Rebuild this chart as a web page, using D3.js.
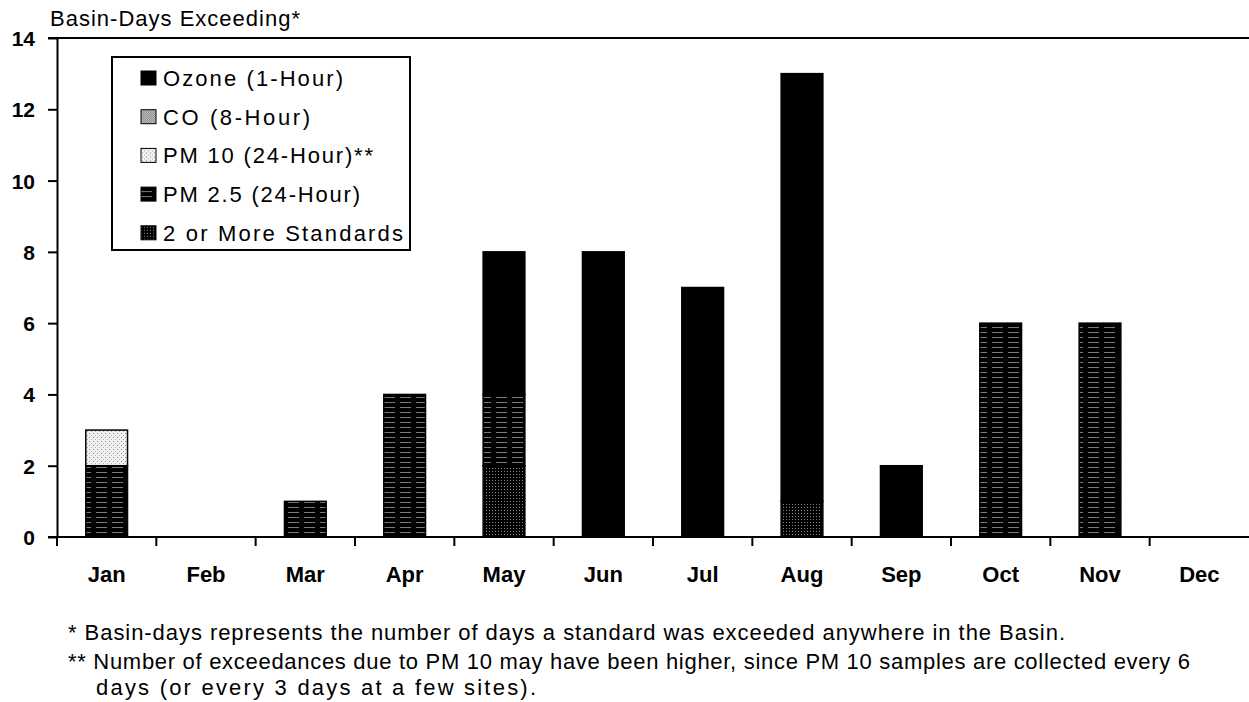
<!DOCTYPE html>
<html lang="en">
<head>
<meta charset="utf-8">
<title>Basin-Days Exceeding Standards by Month</title>
<style>
  body { margin: 0; background: #fff; }
  svg { display: block; }
  text { font-family: "Liberation Sans", Arial, sans-serif; fill: #000; }
  .tick text { font-size: 21px; font-weight: bold; }
  .legend text { font-size: 22px; }
  .note { font-size: 22px; }
</style>
</head>
<body>
<script src="https://cdn.jsdelivr.net/npm/d3@7"></script>
<script>
// data
var months = ["Jan", "Feb", "Mar", "Apr", "May", "Jun", "Jul", "Aug", "Sep", "Oct", "Nov", "Dec"];
var multi = [0, 0, 0, 0, 2, 0, 0, 1, 0, 0, 0, 0];   // 2 or More Standards
var co    = [0, 0, 0, 0, 0, 0, 0, 0, 0, 0, 0, 0];   // CO (8-Hour)
var pm25  = [2, 0, 1, 4, 2, 0, 0, 0, 0, 6, 6, 0];   // PM 2.5 (24-Hour)
var pm10  = [1, 0, 0, 0, 0, 0, 0, 0, 0, 0, 0, 0];   // PM 10 (24-Hour)
var ozone = [0, 0, 0, 0, 4, 8, 7, 12, 2, 0, 0, 0];  // Ozone (1-Hour)
var yTicks = [0, 2, 4, 6, 8, 10, 12, 14];
var legendLabels = ["Ozone (1-Hour)", "CO (8-Hour)", "PM 10 (24-Hour)**", "PM 2.5 (24-Hour)", "2 or More Standards"];

var w = 1249, h = 702;
// plot edges (note: "top" is a reserved window global, so use other names)
var plotL = 57, plotR = 1249, plotT = 38, plotB = 537;

var rows = months.map(function(m, i) {
  return { month: m, multi: multi[i], co: co[i], pm25: pm25[i], pm10: pm10[i], ozone: ozone[i] };
});
var keys = ["multi", "co", "pm25", "pm10", "ozone"];
var series = d3.stack().keys(keys)(rows);

var svg = d3.select("body").append("svg").attr("width", w).attr("height", h);

// fill patterns, looking like the scanned textures
var defs = svg.append("defs");
var p25 = defs.append("pattern").attr("id", "p-pm25").attr("patternUnits", "userSpaceOnUse")
  .attr("width", 16).attr("height", 5);
p25.append("rect").attr("width", 16).attr("height", 5).attr("fill", "#000");
p25.append("line").attr("x1", 0).attr("x2", 11).attr("y1", 2.5).attr("y2", 2.5)
  .attr("stroke", "#999").attr("stroke-width", 0.8);

var pm = defs.append("pattern").attr("id", "p-multi").attr("patternUnits", "userSpaceOnUse")
  .attr("width", 3).attr("height", 3);
pm.append("rect").attr("width", 3).attr("height", 3).attr("fill", "#000");
pm.append("rect").attr("width", 1).attr("height", 1).attr("fill", "#8a8a8a");

var p10 = defs.append("pattern").attr("id", "p-pm10").attr("patternUnits", "userSpaceOnUse")
  .attr("width", 4).attr("height", 4);
p10.append("rect").attr("width", 4).attr("height", 4).attr("fill", "#f2f2f2");
p10.append("rect").attr("x", 1).attr("y", 1).attr("width", 1).attr("height", 1).attr("fill", "#888");
p10.append("rect").attr("x", 3).attr("y", 3).attr("width", 1).attr("height", 1).attr("fill", "#aaa");

var pco = defs.append("pattern").attr("id", "p-co").attr("patternUnits", "userSpaceOnUse")
  .attr("width", 2).attr("height", 2);
pco.append("rect").attr("width", 2).attr("height", 2).attr("fill", "#ddd");
pco.append("rect").attr("width", 1).attr("height", 1).attr("fill", "#666");
pco.append("rect").attr("x", 1).attr("y", 1).attr("width", 1).attr("height", 1).attr("fill", "#777");

var fills = { ozone: "#000", co: "url(#p-co)", pm10: "url(#p-pm10)", pm25: "url(#p-pm25)", multi: "url(#p-multi)" };

// scales
var xBand = d3.scaleBand().domain(months).range([plotL, plotR]);
var x = d3.scaleBand().domain(months).range([plotL, plotR]).paddingInner(0.58).paddingOuter(0.29);
var y = d3.scaleLinear().domain([0, 14]).range([plotB, plotT]);

// bars
svg.append("g").selectAll("g")
  .data(series)
  .enter().append("g")
  .attr("fill", function(d) { return fills[d.key]; })
  .selectAll("rect")
  .data(function(d) { return d.filter(function(v) { return v[1] > v[0]; }); })
  .enter().append("rect")
  .attr("x", function(d) { return x(d.data.month); })
  .attr("y", function(d) { return y(d[1]); })
  .attr("width", x.bandwidth())
  .attr("height", function(d) { return y(d[0]) - y(d[1]); })
  .attr("stroke", "#000")
  .attr("stroke-width", 1.5);

// top border line
svg.append("line").attr("x1", plotL - 9).attr("x2", plotR).attr("y1", y(14)).attr("y2", y(14))
  .attr("stroke", "#000").attr("stroke-width", 2);

// y axis
var yAxis = svg.append("g").attr("transform", "translate(" + plotL + ",0)")
  .call(d3.axisLeft(y).tickValues(yTicks).tickSize(9).tickPadding(13).tickSizeOuter(0));
yAxis.select(".domain").attr("stroke-width", 2);
yAxis.selectAll(".tick line").attr("stroke-width", 2);
yAxis.selectAll(".tick text").attr("dy", "0.36em");

// x axis: ticks sit at the month boundaries
var xAxis = svg.append("g").attr("transform", "translate(0," + plotB + ")");
xAxis.append("line").attr("x1", plotL - 9).attr("x2", plotR).attr("stroke", "#000").attr("stroke-width", 2);
xAxis.selectAll("line.tk")
  .data(months)
  .enter().append("line").attr("class", "tk")
  .attr("x1", function(d) { return xBand(d); })
  .attr("x2", function(d) { return xBand(d); })
  .attr("y1", 0).attr("y2", 9)
  .attr("stroke", "#000").attr("stroke-width", 2);
xAxis.selectAll("text")
  .data(months)
  .enter().append("text")
  .attr("x", function(d) { return xBand(d) + xBand.bandwidth() / 2; })
  .attr("y", 45)
  .attr("text-anchor", "middle")
  .style("font-size", "22px").style("font-weight", "bold")
  .text(function(d) { return d; });

// axis title
svg.append("text").attr("x", 50).attr("y", 26)
  .attr("textLength", 250)
  .style("font-size", "22px")
  .text("Basin-Days Exceeding*");

// legend
var legendEnds = [343, 310, 373, 360, 403];
var legend = svg.append("g").attr("class", "legend");
legend.append("rect").attr("x", 112).attr("y", 57).attr("width", 298).attr("height", 193)
  .attr("fill", "#fff").attr("stroke", "#000").attr("stroke-width", 2);
var legendKeys = ["ozone", "co", "pm10", "pm25", "multi"];
var item = legend.selectAll("g.item")
  .data(legendKeys)
  .enter().append("g").attr("class", "item")
  .attr("transform", function(d, i) { return "translate(141," + (78 + i * 38.7) + ")"; });
item.append("rect").attr("x", 0).attr("y", -7).attr("width", 15).attr("height", 14)
  .attr("fill", function(d) { return fills[d]; })
  .attr("stroke", "#000").attr("stroke-width", 1);
item.append("text").attr("x", 22).attr("y", 0).attr("dy", "0.36em")
  .attr("textLength", function(d, i) { return legendEnds[i] - 163; })
  .text(function(d, i) { return legendLabels[i]; });

// footnotes
var notes = svg.append("g").attr("class", "notes");
notes.append("text").attr("class", "note").attr("x", 68).attr("y", 640)
  .attr("textLength", 997)
  .text("* Basin-days represents the number of days a standard was exceeded anywhere in the  Basin.");
notes.append("text").attr("class", "note").attr("x", 68).attr("y", 669)
  .attr("textLength", 1122)
  .text("** Number of exceedances due to PM 10 may have been higher, since PM 10 samples are collected every 6");
notes.append("text").attr("class", "note").attr("x", 96).attr("y", 695)
  .attr("textLength", 440)
  .text("days (or every 3 days at a few sites).");
</script>
</body>
</html>
